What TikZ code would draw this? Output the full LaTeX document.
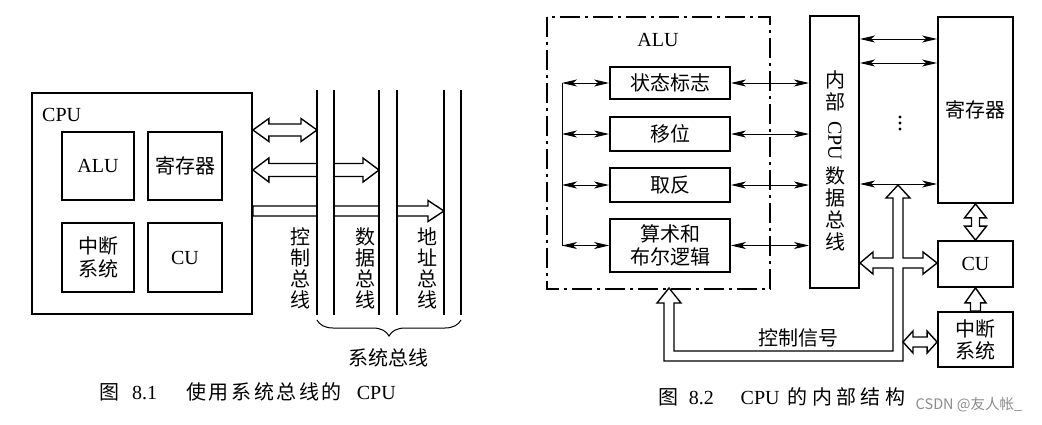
\documentclass[tikz,border=0pt]{standalone}
\usepackage{fontspec}
\usepackage{graphicx}
\setmainfont{Liberation Serif}
\newfontfamily\cjk{Noto Sans CJK SC}
\usetikzlibrary{calc,arrows.meta,decorations.pathreplacing}
\newcommand\txt{\fontsize{20}{22}\selectfont}
\newcommand\gapA{\hspace{2.6pt}}
\newcommand\gapB{\hspace{4.4pt}}
% hollow arrows: #1 start point, #2 end point, #3 shaft half width, #4 head half width, #5 head length
\newcommand\hdbl[5]{\draw[holl] let \p1=(#1), \p2=(#2) in
  (\x1,\y1) -- (\x1+#5,\y1+#4) -- (\x1+#5,\y1+#3) -- (\x2-#5,\y1+#3) -- (\x2-#5,\y1+#4) -- (\x2,\y1)
  -- (\x2-#5,\y1-#4) -- (\x2-#5,\y1-#3) -- (\x1+#5,\y1-#3) -- (\x1+#5,\y1-#4) -- cycle;}
\newcommand\hsgl[5]{\draw[holl] let \p1=(#1), \p2=(#2) in
  (\x1,\y1+#3) -- (\x2-#5,\y1+#3) -- (\x2-#5,\y1+#4) -- (\x2,\y1) -- (\x2-#5,\y1-#4) -- (\x2-#5,\y1-#3) -- (\x1,\y1-#3) -- cycle;}
\newcommand\vdbl[5]{\draw[holl] let \p1=(#1), \p2=(#2) in
  (\x1,\y1) -- (\x1+#4,\y1-#5) -- (\x1+#3,\y1-#5) -- (\x1+#3,\y2+#5) -- (\x1+#4,\y2+#5) -- (\x1,\y2)
  -- (\x1-#4,\y2+#5) -- (\x1-#3,\y2+#5) -- (\x1-#3,\y1-#5) -- (\x1-#4,\y1-#5) -- cycle;}
\newcommand\vup[5]{\draw[holl] let \p1=(#1), \p2=(#2) in
  (\x1-#3,\y1) -- (\x1-#3,\y2-#5) -- (\x1-#4,\y2-#5) -- (\x1,\y2) -- (\x1+#4,\y2-#5) -- (\x1+#3,\y2-#5) -- (\x1+#3,\y1) -- cycle;}
\begin{document}
\begin{tikzpicture}[x=1pt,y=-1pt,
  box/.style={draw, line width=1.8pt, inner sep=0pt, font=\txt},
  cbox/.style={box, font=\txt\cjk, align=center},
  holl/.style={draw, fill=white, line width=1.4pt, line join=miter},
  busline/.style={line width=1.8pt},
  tarr/.style={line width=1pt, {Stealth[length=15pt,width=7pt,inset=4pt]}-{Stealth[length=15pt,width=7pt,inset=4pt]}},
  vlab/.style={font=\fontsize{20}{21}\selectfont\cjk, align=center, inner sep=0pt},
  lab/.style={font=\txt, inner sep=0pt}]
\useasboundingbox (0,0) rectangle (1042,424);
\fill[white] (0,0) rectangle (1042,424);

% ===================== Figure 8.1 =====================
\node[box, minimum width=220pt, minimum height=221pt] (cpu) at (142,203.5) {};
\node[lab, anchor=west] (cpulab) at (42,115) {CPU};
\node[box, minimum width=72pt, minimum height=68pt] (alu1) at (98,166) {ALU};
\node[cbox, minimum width=74pt, minimum height=68pt] (reg1) at (185,166) {寄存器};
\node[cbox, minimum width=72pt, minimum height=69pt, font=\fontsize{20}{23}\selectfont\cjk] (int1) at (98,257.5) {中断\\系统};
\node[box, minimum width=74pt, minimum height=69pt] (cu1) at (185,257.5) {CU};

\coordinate (cb) at (317,90);
\coordinate (db) at (379,90);
\coordinate (ab) at (444,90);

\hdbl{cpu.east |- 0,130}{cb |- 0,130}{6pt}{11.5pt}{16pt}
\hdbl{cpu.east |- 0,170}{db |- 0,170}{6.5pt}{12pt}{16pt}
\hsgl{cpu.east |- 0,211}{ab |- 0,211}{5pt}{10.5pt}{16pt}

\fill[white] (317,90) rectangle (334,315);
\fill[white] (379,90) rectangle (397,315);
\fill[white] (444,90) rectangle (461,315);
\foreach \xx in {317,334,379,397,444,461}
  \draw[busline] (\xx,90) -- (\xx,315);

\node[vlab] (lc) at (300,268) {控\\制\\总\\线};
\node[vlab] (ld) at (365,268) {数\\据\\总\\线};
\node[vlab] (la) at (427,268) {地\\址\\总\\线};

\draw[line width=1pt, decorate, decoration={brace, amplitude=16pt}] (461,320) -- (317,320);
\node[lab, font=\txt\cjk] (sysbus) at (388,358) {系统总线};

\node[lab] (cap1) at (247.5,392)
  {{\cjk 图}\hspace{13pt}8.1\hspace{29pt}{\cjk 使\gapA 用\gapA 系\gapA 统\gapA 总\gapA 线\gapA 的}\hspace{15pt}CPU};

% ===================== Figure 8.2 =====================
\draw[line width=1.2pt, dash pattern=on 20pt off 5pt on 3pt off 5pt] (547,17) rectangle (770,289);
\node[lab] (alulab) at (658,40) {ALU};

\node[cbox, minimum width=120pt, minimum height=32pt] (flag) at (670,83) {状态标志};
\node[cbox, minimum width=120pt, minimum height=34pt] (shift) at (670,134) {移位};
\node[cbox, minimum width=120pt, minimum height=34pt] (neg) at (670,185) {取反};
\node[cbox, minimum width=120pt, minimum height=53pt, font=\fontsize{20}{23}\selectfont\cjk] (arith) at (670,245.5) {算术和\\布尔逻辑};

\node[box, line width=2pt, minimum width=49pt, minimum height=272pt] (bus) at (834.5,152) {};
\node[font=\txt\cjk, align=center, inner sep=0pt, anchor=north] (bustxt) at (835,70)
  {内\\部\\[-10pt]\rotatebox{-90}{\rmfamily CPU}\\[6pt]数\\据\\总\\线};

\node[cbox, minimum width=75pt, minimum height=186pt] (reg) at (975.5,110) {寄存器};
\node[box, minimum width=75pt, minimum height=46pt] (cu) at (975.5,264) {CU};
\node[cbox, minimum width=75pt, minimum height=55pt, font=\fontsize{20}{22}\selectfont\cjk] (int) at (975.5,339.5) {中断\\系统};

\coordinate (vl) at (562,83);
\draw[line width=1pt] (vl |- flag.west) -- (vl |- arith.west);
\foreach \b in {flag,shift,neg,arith}{
  \draw[tarr] (vl |- \b.west) -- (\b.west);
  \draw[tarr] (\b.east) -- (bus.west |- \b.east);
}
\foreach \yy in {39,63,184}
  \draw[tarr] (bus.east |- 0,\yy) -- (reg.west |- 0,\yy);

\foreach \yy in {117,123,129}
  \fill (900,\yy) circle (1.6pt);

% control-signal pipe
\draw[holl] (898,185) -- (910,198) -- (903,198) -- (903,258) -- (923,258) -- (923,252) -- (cu.west |- 0,263)
  -- (923,274) -- (923,268) -- (903,268) -- (903,361) -- (664,361) -- (664,303) -- (657,303) -- (669,288)
  -- (681,303) -- (674,303) -- (674,351) -- (893,351) -- (893,268) -- (873,268) -- (873,274)
  -- (bus.east |- 0,263) -- (873,252) -- (873,258) -- (893,258) -- (893,198) -- (886,198) -- cycle;
\node[lab, font=\txt\cjk] (ctrl) at (798,338) {控制信号};

\coordinate (pipeR) at (903,342);
\hdbl{pipeR}{int.west |- pipeR}{5pt}{11pt}{10pt}
\vdbl{reg.south}{cu.north}{4pt}{11pt}{14pt}
\vup{int.north}{cu.south}{5pt}{10.5pt}{15pt}

\node[lab] (cap2) at (782,397)
  {{\cjk 图}\hspace{10pt}8.2\hspace{27pt}CPU\hspace{8pt}{\cjk 的\gapB 内\gapB 部\gapB 结\gapB 构}};

\node[lab, font=\fontsize{14.5}{16}\selectfont\cjk, text=black!45] (wm) at (969,405) {CSDN @友人帐\_};
\end{tikzpicture}
\end{document}
